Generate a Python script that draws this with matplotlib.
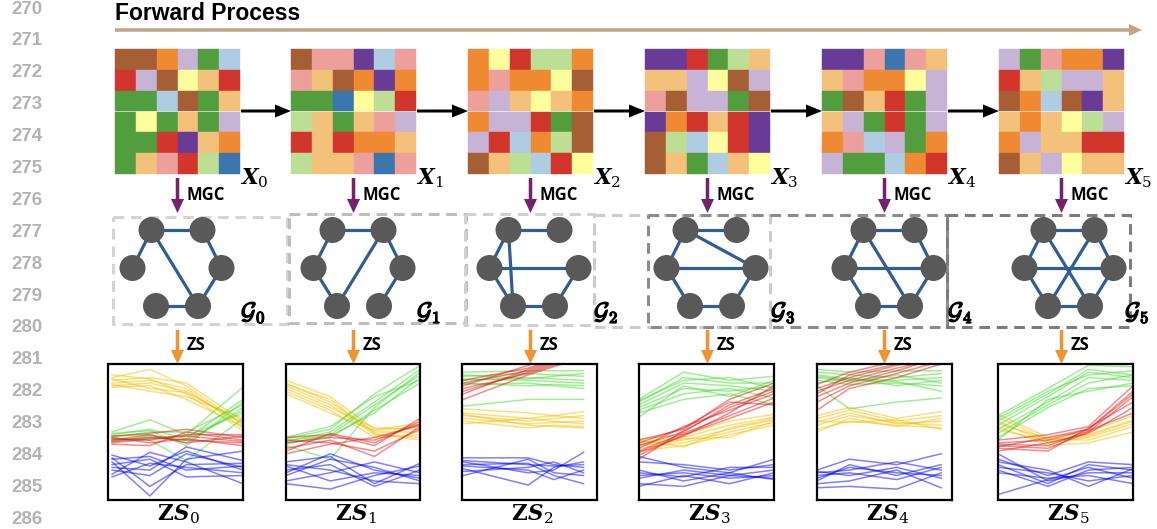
import matplotlib
matplotlib.use('Agg')
import matplotlib.pyplot as plt
import matplotlib.patheffects as pe
from matplotlib.patches import Rectangle, Circle, FancyArrow

W, H = 1157, 529

# ---------------- data ----------------
line_numbers = [270, 271, 272, 273, 274, 275, 276, 277, 278, 279, 280, 281, 282, 283, 284, 285, 286]
title_text = "Forward Process"

palette = {
    'N': '#a65e34', 'O': '#ef8a33', 'L': '#c7b3d6', 'G': '#529e3f',
    'B': '#aecde2', 'R': '#d1352b', 'Y': '#fefe9c', 'P': '#f4c17b',
    'K': '#eda09b', 'U': '#683c96', 'E': '#bddf95', 'D': '#3b76af',
}

grid_x0 = ["NNOLGB", "RLNYPR", "GGBNGP", "GYGPGL", "GGRUPO", "GPKRED"]
grid_x1 = ["NKKUBK", "KPNOUO", "GGDYER", "EPGPKL", "RPROOP", "EPPKDK"]
grid_x2 = ["OYREEO", "OKOOYN", "KLPYPO", "OLLRGN", "LRBOEN", "NPEBRY"]
grid_x3 = ["UURGEP", "PPLYNL", "KNLLGN", "UORPRU", "NEBYRU", "NPGBPY"]
grid_x4 = ["UUKDKP", "PKOOYL", "GNPRGL", "PLGRGL", "OKBLGO", "LGGBOR"]
grid_x5 = ["LGKOOU", "RPELLP", "NOBNUP", "POPYEL", "OLPPRR", "NPLYPP"]
grids = [grid_x0, grid_x1, grid_x2, grid_x3, grid_x4, grid_x5]

# graph edges; nodes: 0=top-left 1=top-right 2=right 3=bottom-right 4=bottom-left 5=left
edges_g0 = [(0, 1), (0, 5), (0, 3), (1, 2), (2, 3), (3, 4)]
edges_g1 = [(0, 1), (0, 5), (5, 4), (1, 4), (1, 2), (2, 3)]
edges_g2 = [(0, 1), (0, 5), (0, 4), (5, 2), (5, 4), (4, 3), (3, 2)]
edges_g3 = [(0, 1), (0, 2), (0, 5), (5, 2), (5, 4), (4, 3), (3, 2)]
edges_g4 = [(0, 1), (1, 2), (2, 3), (3, 4), (4, 5), (5, 0), (0, 3), (5, 2)]
edges_g5 = [(0, 1), (1, 2), (2, 3), (3, 4), (4, 5), (5, 0), (0, 3), (1, 4), (5, 2)]
graph_edges = [edges_g0, edges_g1, edges_g2, edges_g3, edges_g4, edges_g5]

# ZS panels: x positions and line values (0 = bottom, 1 = top)
zs0_x = [0.03, 0.31, 0.58, 1.0]
zs0_yellow = [[0.90, 0.96, 0.84, 0.55], [0.88, 0.90, 0.86, 0.58], [0.86, 0.88, 0.82, 0.53],
              [0.84, 0.86, 0.80, 0.56], [0.92, 0.89, 0.78, 0.51], [0.85, 0.80, 0.76, 0.60],
              [0.83, 0.84, 0.74, 0.54], [0.89, 0.82, 0.79, 0.57]]
zs0_green = [[0.50, 0.59, 0.48, 0.83], [0.48, 0.52, 0.45, 0.74], [0.46, 0.50, 0.50, 0.70],
             [0.47, 0.48, 0.42, 0.68], [0.44, 0.46, 0.47, 0.64], [0.45, 0.44, 0.29, 0.60],
             [0.49, 0.51, 0.40, 0.72], [0.43, 0.47, 0.44, 0.66]]
zs0_red = [[0.47, 0.49, 0.52, 0.46], [0.45, 0.44, 0.48, 0.48], [0.43, 0.46, 0.44, 0.42],
           [0.41, 0.40, 0.50, 0.44], [0.46, 0.42, 0.45, 0.40], [0.44, 0.48, 0.42, 0.47],
           [0.42, 0.45, 0.47, 0.43]]
zs0_blue = [[0.33, 0.25, 0.36, 0.22], [0.31, 0.10, 0.26, 0.27], [0.28, 0.03, 0.30, 0.36],
            [0.26, 0.30, 0.17, 0.18], [0.22, 0.18, 0.34, 0.24], [0.19, 0.35, 0.28, 0.12],
            [0.30, 0.32, 0.22, 0.25], [0.24, 0.22, 0.39, 0.29], [0.17, 0.27, 0.24, 0.20]]

zs1_x = [0.0, 0.33, 0.66, 1.0]
zs1_yellow = [[0.88, 0.76, 0.52, 0.56], [0.86, 0.72, 0.50, 0.50], [0.84, 0.70, 0.48, 0.46],
              [0.82, 0.68, 0.53, 0.52], [0.80, 0.66, 0.46, 0.48], [0.85, 0.74, 0.49, 0.44],
              [0.78, 0.64, 0.51, 0.54]]
zs1_green = [[0.45, 0.52, 0.78, 0.99], [0.43, 0.50, 0.72, 0.96], [0.41, 0.48, 0.70, 0.92],
             [0.46, 0.54, 0.76, 0.88], [0.42, 0.46, 0.66, 0.86], [0.40, 0.30, 0.68, 0.94],
             [0.44, 0.47, 0.64, 0.90]]
zs1_red = [[0.46, 0.48, 0.40, 0.60], [0.42, 0.46, 0.44, 0.56], [0.38, 0.44, 0.32, 0.54],
           [0.36, 0.49, 0.42, 0.58], [0.44, 0.42, 0.36, 0.52], [0.34, 0.41, 0.46, 0.55]]
zs1_blue = [[0.28, 0.32, 0.12, 0.27], [0.25, 0.14, 0.20, 0.18], [0.22, 0.26, 0.10, 0.22],
            [0.18, 0.30, 0.24, 0.14], [0.14, 0.20, 0.28, 0.20], [0.12, 0.08, 0.18, 0.25],
            [0.26, 0.22, 0.14, 0.12], [0.20, 0.34, 0.22, 0.16]]

zs2_x = [0.01, 0.49, 0.68, 0.9]
zs2_red = [[0.88, 0.97, 1.03, 1.08], [0.86, 0.95, 1.01, 1.10], [0.84, 0.99, 1.05, 1.12],
           [0.82, 0.93, 0.99, 1.06], [0.78, 0.96, 1.02, 1.09], [0.74, 0.92, 0.98, 1.05],
           [0.80, 0.94, 1.00, 1.07]]
zs2_green = [[0.94, 0.95, 0.95, 0.95], [0.91, 0.93, 0.92, 0.91], [0.89, 0.88, 0.87, 0.86],
             [0.86, 0.84, 0.85, 0.84], [0.88, 0.90, 0.89, 0.88], [0.85, 0.86, 0.84, 0.82],
             [0.69, 0.74, 0.74, 0.74], [0.92, 0.89, 0.91, 0.93]]
zs2_yellow = [[0.67, 0.64, 0.62, 0.60], [0.64, 0.60, 0.62, 0.65], [0.62, 0.58, 0.60, 0.62],
              [0.60, 0.56, 0.57, 0.58], [0.58, 0.53, 0.55, 0.54], [0.56, 0.60, 0.58, 0.56],
              [0.63, 0.55, 0.54, 0.53]]
zs2_blue = [[0.31, 0.31, 0.26, 0.24], [0.28, 0.20, 0.22, 0.35], [0.26, 0.27, 0.18, 0.12],
            [0.23, 0.11, 0.24, 0.28], [0.21, 0.24, 0.28, 0.20], [0.18, 0.30, 0.20, 0.18],
            [0.25, 0.22, 0.15, 0.22], [0.29, 0.26, 0.25, 0.26]]

zs3_x = [0.0, 0.33, 0.67, 1.0]
zs3_green = [[0.74, 0.94, 0.88, 0.91], [0.72, 0.90, 0.86, 0.86], [0.70, 0.86, 0.84, 0.80],
             [0.68, 0.82, 0.80, 0.84], [0.66, 0.78, 0.82, 0.75], [0.64, 0.74, 0.78, 0.70],
             [0.61, 0.84, 0.76, 0.88], [0.73, 0.88, 0.90, 0.82]]
zs3_red = [[0.44, 0.52, 0.74, 0.86], [0.40, 0.50, 0.70, 0.82], [0.38, 0.54, 0.66, 0.78],
           [0.36, 0.49, 0.62, 0.75], [0.33, 0.48, 0.60, 0.72], [0.30, 0.51, 0.68, 0.80],
           [0.42, 0.53, 0.72, 0.70], [0.35, 0.47, 0.64, 0.84]]
zs3_yellow = [[0.45, 0.48, 0.58, 0.63], [0.42, 0.46, 0.55, 0.61], [0.40, 0.44, 0.52, 0.59],
              [0.38, 0.42, 0.50, 0.57], [0.36, 0.40, 0.48, 0.55], [0.44, 0.39, 0.53, 0.60],
              [0.41, 0.45, 0.46, 0.58]]
zs3_blue = [[0.32, 0.24, 0.20, 0.30], [0.28, 0.26, 0.22, 0.26], [0.20, 0.17, 0.24, 0.24],
            [0.16, 0.22, 0.18, 0.16], [0.12, 0.10, 0.18, 0.22], [0.10, 0.18, 0.12, 0.20],
            [0.22, 0.14, 0.20, 0.15], [0.18, 0.20, 0.16, 0.18]]

zs4_x = [0.0, 0.24, 0.59, 0.92]
zs4_red = [[0.85, 0.94, 1.02, 1.08], [0.82, 0.90, 0.99, 1.06], [0.80, 0.88, 0.97, 1.04],
           [0.76, 0.86, 0.95, 1.05], [0.72, 0.84, 0.93, 1.02], [0.66, 0.82, 0.90, 1.00],
           [0.78, 0.92, 1.00, 1.10]]
zs4_green = [[0.96, 0.94, 0.95, 0.95], [0.94, 0.92, 0.90, 0.93], [0.92, 0.89, 0.88, 0.90],
             [0.90, 0.87, 0.92, 0.86], [0.88, 0.85, 0.86, 0.84], [0.86, 0.90, 0.84, 0.88],
             [0.84, 0.67, 0.72, 0.75], [0.91, 0.88, 0.87, 0.80]]
zs4_yellow = [[0.62, 0.68, 0.60, 0.65], [0.60, 0.66, 0.58, 0.62], [0.57, 0.64, 0.56, 0.58],
              [0.55, 0.62, 0.57, 0.55], [0.52, 0.58, 0.55, 0.53], [0.50, 0.60, 0.54, 0.60],
              [0.58, 0.57, 0.59, 0.52]]
zs4_blue = [[0.22, 0.30, 0.26, 0.34], [0.20, 0.22, 0.28, 0.22], [0.18, 0.20, 0.15, 0.24],
            [0.16, 0.24, 0.20, 0.18], [0.12, 0.14, 0.22, 0.09], [0.09, 0.10, 0.08, 0.20],
            [0.21, 0.18, 0.24, 0.16], [0.14, 0.26, 0.18, 0.26]]

zs5_x = [0.0, 0.37, 0.67, 1.0]
zs5_green = [[0.62, 0.82, 0.99, 0.98], [0.58, 0.78, 0.96, 0.92], [0.55, 0.76, 0.94, 0.90],
             [0.52, 0.72, 0.90, 0.88], [0.49, 0.70, 0.86, 0.92], [0.46, 0.68, 0.82, 0.84],
             [0.44, 0.74, 0.80, 0.86], [0.60, 0.80, 0.92, 0.95]]
zs5_yellow = [[0.63, 0.46, 0.50, 0.62], [0.61, 0.44, 0.48, 0.59], [0.58, 0.42, 0.46, 0.56],
              [0.56, 0.45, 0.44, 0.54], [0.54, 0.40, 0.42, 0.50], [0.52, 0.43, 0.47, 0.58]]
zs5_red = [[0.44, 0.48, 0.54, 0.84], [0.42, 0.44, 0.52, 0.80], [0.40, 0.38, 0.50, 0.76],
           [0.38, 0.36, 0.53, 0.72], [0.36, 0.42, 0.49, 0.68], [0.41, 0.40, 0.51, 0.64],
           [0.39, 0.46, 0.52, 0.78]]
zs5_blue = [[0.30, 0.18, 0.28, 0.26], [0.26, 0.12, 0.26, 0.22], [0.24, 0.20, 0.14, 0.18],
            [0.22, 0.10, 0.22, 0.24], [0.20, 0.16, 0.18, 0.12], [0.04, 0.15, 0.24, 0.16],
            [0.34, 0.14, 0.20, 0.20], [0.28, 0.22, 0.10, 0.23]]

zs_panels = [
    (zs0_x, [zs0_yellow, zs0_green, zs0_red, zs0_blue]),
    (zs1_x, [zs1_yellow, zs1_green, zs1_red, zs1_blue]),
    (zs2_x, [zs2_yellow, zs2_green, zs2_red, zs2_blue]),
    (zs3_x, [zs3_yellow, zs3_green, zs3_red, zs3_blue]),
    (zs4_x, [zs4_yellow, zs4_green, zs4_red, zs4_blue]),
    (zs5_x, [zs5_yellow, zs5_green, zs5_red, zs5_blue]),
]
series_colors = ['#f5c000', '#45dd30', '#e41a1c', '#0000ff']

# ---------------- layout ----------------
grid_left = [115, 291, 468, 645, 822, 999]
grid_top, grid_size = 49, 125
graph_cx = [177, 358, 534, 711, 889, 1069]
node_dx = [-25.5, 25.5, 44.5, 21, -21, -44.5]
node_dy = [-38, -38, 0, 38, 38, 0]
graph_cy = 268
zs_boxes = [(108, 243), (286, 420), (462, 597), (639, 774), (817, 952), (998, 1133)]
zs_top, zs_bot = 364, 500
dash_boxes = [
    (113, 217, 287, 324, '#d4d4d4'),
    (289, 214, 466, 323, '#bdbdbd'),
    (465, 214, 594, 325, '#d0d0d0'),
    (594, 215, 770, 327, '#cbcbcb'),
    (648, 215, 947, 327, '#8c8c8c'),
    (947, 215, 1130, 327, '#7c7c7c'),
]

fig = plt.figure(figsize=(W / 100, H / 100), dpi=100)
ax = fig.add_axes([0, 0, 1, 1])
ax.set_xlim(0, W)
ax.set_ylim(H, 0)
ax.axis('off')
renderer = fig.canvas.get_renderer()

# line numbers
for k, n in enumerate(line_numbers):
    ax.text(43, 9 + 31.9 * k, str(n), ha='right', va='center', fontsize=13.5,
            family='Liberation Sans', weight='bold', color='#b3b3b3')

# title + forward arrow
ax.text(115, 14, title_text, ha='left', va='center', fontsize=16.5,
        family='Liberation Sans', weight='bold', color='black')
ax.add_patch(FancyArrow(115, 30, 1027, 0, width=3.5, head_width=12, head_length=13,
                        length_includes_head=True, color='#c4a481', lw=0))


def chain_label(x, y, parts):
    """parts: list of (text, kwargs, dy) drawn consecutively from x."""
    for txt, kw, dy in parts:
        t = ax.text(x, y + dy, txt, ha='left', va='baseline', **kw)
        bb = t.get_window_extent(renderer)
        x = bb.x1 + 0.5


big = dict(family='DejaVu Serif', fontsize=15.5, weight='bold')
bigit = dict(family='DejaVu Serif', fontsize=15.5, weight='bold', style='italic')
sub = dict(family='DejaVu Serif', fontsize=11)

for i in range(6):
    gx = grid_left[i]
    cs = grid_size / 6
    for r, row in enumerate(grids[i]):
        for c, code in enumerate(row):
            ax.add_patch(Rectangle((gx + c * cs, grid_top + r * cs), cs, cs,
                                   facecolor=palette[code], edgecolor=palette[code], lw=0.3))
    # X label
    chain_label(gx + grid_size + 1, 184, [('X', bigit, 0), (str(i), sub, 3)])
    # black arrow to next grid
    if i < 5:
        x0 = gx + grid_size + 1
        ax.add_patch(FancyArrow(x0, 111, grid_left[i + 1] - x0, 0, width=3, head_width=13,
                                head_length=16, length_includes_head=True, color='black', lw=0))
    cx = gx + grid_size / 2
    # MGC arrow
    ax.add_patch(FancyArrow(cx, 178, 0, 35, width=3.5, head_width=13, head_length=14,
                            length_includes_head=True, color='#74216e', lw=0))
    ax.text(cx + 9, 195, 'MGC', ha='left', va='center', fontsize=12,
            family='Open Sans', weight='bold', color='black')
    # ZS arrow
    ax.add_patch(FancyArrow(cx, 330, 0, 34, width=3.5, head_width=13, head_length=14,
                            length_includes_head=True, color='#f09433', lw=0))
    ax.text(cx + 9, 345, 'ZS', ha='left', va='center', fontsize=12,
            family='Open Sans', weight='bold', color='black')

# dashed boxes
for (x0, y0, x1, y1, col) in dash_boxes:
    ax.add_patch(Rectangle((x0, y0), x1 - x0, y1 - y0, fill=False, edgecolor=col,
                           lw=2.2, linestyle=(0, (3.5, 2.2))))

# graphs
for i in range(6):
    cx = graph_cx[i]
    px = [cx + d for d in node_dx]
    py = [graph_cy + d for d in node_dy]
    for a, b in graph_edges[i]:
        ax.plot([px[a], px[b]], [py[a], py[b]], color='#2f5d98', lw=2.3, solid_capstyle='round', zorder=3)
    for k in range(6):
        ax.add_patch(Circle((px[k], py[k]), 13, facecolor='#595959', edgecolor='none', zorder=4))
    ax.text(grid_left[i] + grid_size + 1, 319, r'$\mathcal{G}_{%d}$' % i, ha='left', va='baseline',
            fontsize=17, color='black', math_fontfamily='cm',
            path_effects=[pe.withStroke(linewidth=1.0, foreground='black')])

# ZS panels
for i, (xs, groups) in enumerate(zs_panels):
    x0, x1 = zs_boxes[i]
    pax = fig.add_axes([x0 / W, 1 - zs_bot / H, (x1 - x0) / W, (zs_bot - zs_top) / H])
    pax.set_xlim(0, 1)
    pax.set_ylim(0, 1)
    pax.set_xticks([])
    pax.set_yticks([])
    for s in pax.spines.values():
        s.set_linewidth(1.6)
        s.set_color('black')
    for col, lines in zip(series_colors, groups):
        for ys in lines:
            pax.plot(xs, ys, color=col, alpha=0.5, lw=1.1)
    # label below
    cxm = (x0 + x1) / 2
    chain_label(cxm - 18, 520, [('Z', big, 0), ('S', bigit, 0), (str(i), sub, 3)])

fig.savefig('out.png', dpi=100)
